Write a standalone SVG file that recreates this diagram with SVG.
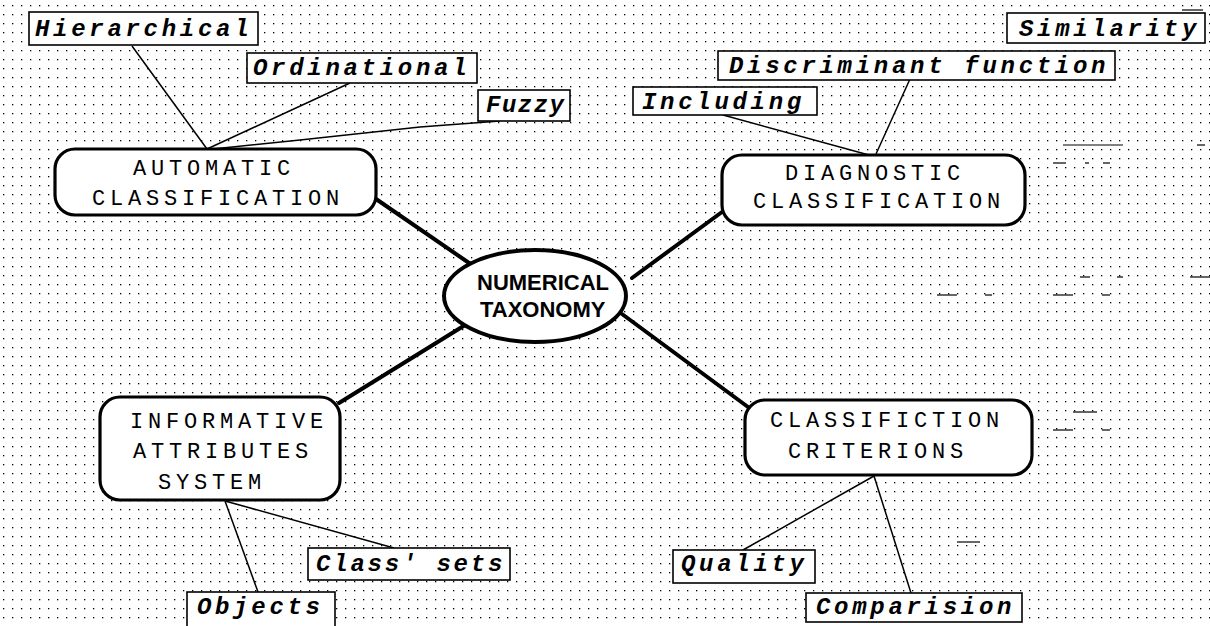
<svg xmlns="http://www.w3.org/2000/svg" width="1210" height="626" viewBox="0 0 1210 626">
<defs>
<pattern id="dots" width="9" height="9" patternUnits="userSpaceOnUse">
<rect x="3" y="5" width="1.3" height="1.3" fill="#000"/>
</pattern>
<style>
.node{fill:#fff;stroke:#000;stroke-width:3.2}
.ntext{font-family:"Liberation Mono",monospace;font-size:22px;letter-spacing:4.8px;fill:#000}
.lbox{fill:#fff;stroke:#000;stroke-width:1.6}
.ltext{font-family:"Liberation Mono",monospace;font-size:24px;font-weight:bold;font-style:italic;letter-spacing:3.7px;fill:#000}
.thick{stroke:#000;stroke-width:4;fill:none;stroke-linecap:round}
.thin{stroke:#000;stroke-width:1.5;fill:none}
.art{stroke:#000;stroke-width:1.2}
</style>
</defs>
<rect width="1210" height="626" fill="#fff"/>
<rect width="1210" height="626" fill="url(#dots)"/>

<g id="artifacts">
<line class="art" x1="1063" y1="145" x2="1123" y2="145"/>
<line class="art" x1="1197" y1="145" x2="1205" y2="145"/>
<line class="art" x1="1053" y1="163" x2="1066" y2="163"/>
<line class="art" x1="1085" y1="163" x2="1089" y2="163"/>
<line class="art" x1="1103" y1="163" x2="1110" y2="163"/>
<line class="art" x1="1182" y1="10" x2="1203" y2="10"/>
<line class="art" x1="1190" y1="277" x2="1210" y2="277"/>
<line class="art" x1="1080" y1="277" x2="1090" y2="277"/>
<line class="art" x1="1117" y1="277" x2="1123" y2="277"/>
<line class="art" x1="937" y1="295" x2="957" y2="295"/>
<line class="art" x1="985" y1="295" x2="992" y2="295"/>
<line class="art" x1="1053" y1="295" x2="1073" y2="295"/>
<line class="art" x1="1102" y1="295" x2="1110" y2="295"/>
<line class="art" x1="1073" y1="412" x2="1097" y2="412"/>
<line class="art" x1="1053" y1="430" x2="1073" y2="430"/>
<line class="art" x1="1102" y1="430" x2="1110" y2="430"/>
<line class="art" x1="957" y1="542" x2="980" y2="542"/>
<line class="art" x1="985" y1="162" x2="995" y2="162"/>
</g>

<g id="connectors">
<line class="thick" x1="376" y1="199" x2="472" y2="265"/>
<line class="thick" x1="722" y1="212" x2="632" y2="278"/>
<line class="thick" x1="339" y1="403" x2="470" y2="322"/>
<line class="thick" x1="748" y1="407" x2="622" y2="314"/>
<line class="thin" x1="132" y1="46" x2="207" y2="149"/>
<line class="thin" x1="350" y1="83" x2="207" y2="149"/>
<polyline class="thin" points="213,149 300,140 420,127 500,121"/>
<line class="thin" x1="723" y1="115" x2="869" y2="155"/>
<line class="thin" x1="910" y1="79" x2="876" y2="154"/>
<line class="thin" x1="225" y1="501" x2="394" y2="548"/>
<line class="thin" x1="225" y1="501" x2="258" y2="592"/>
<line class="thin" x1="874" y1="476" x2="743" y2="550"/>
<line class="thin" x1="874" y1="476" x2="911" y2="593"/>
</g>

<g id="n-automatic">
<rect class="node" x="55" y="149" width="321" height="66" rx="20"/>
<text class="ntext" x="133" y="175">AUTOMATIC</text>
<text class="ntext" x="92" y="205">CLASSIFICATION</text>
</g>
<g id="n-diagnostic">
<rect class="node" x="722" y="155" width="303" height="70" rx="20"/>
<text class="ntext" x="785" y="180">DIAGNOSTIC</text>
<text class="ntext" x="753" y="208">CLASSIFICATION</text>
</g>
<g id="n-informative">
<rect class="node" x="100" y="397" width="240" height="103" rx="20"/>
<text class="ntext" x="130" y="428">INFORMATIVE</text>
<text class="ntext" x="133" y="458">ATTRIBUTES</text>
<text class="ntext" x="158" y="489">SYSTEM</text>
</g>
<g id="n-criterions">
<rect class="node" x="745" y="400" width="287" height="75" rx="20"/>
<text class="ntext" x="770" y="427">CLASSIFICTION</text>
<text class="ntext" x="788" y="458">CRITERIONS</text>
</g>
<g id="n-numerical">
<ellipse cx="535" cy="296" rx="91" ry="46" fill="#fff" stroke="#000" stroke-width="4"/>
<text x="477" y="290" font-family="'Liberation Sans',Arial,sans-serif" font-size="22" font-weight="bold">NUMERICAL</text>
<text x="480" y="317" font-family="'Liberation Sans',Arial,sans-serif" font-size="22" font-weight="bold">TAXONOMY</text>
</g>

<g id="l-hierarchical"><rect class="lbox" x="29" y="12" width="229" height="33"/><text class="ltext" x="35" y="36">Hierarchical</text></g>
<g id="l-ordinational"><rect class="lbox" x="247" y="53" width="230" height="30"/><text class="ltext" x="253" y="75">Ordinational</text></g>
<g id="l-fuzzy"><rect class="lbox" x="478" y="90" width="92" height="31"/><text class="ltext" x="486" y="112" style="letter-spacing:1.5px">Fuzzy</text></g>
<g id="l-including"><rect class="lbox" x="633" y="87" width="184" height="28"/><text class="ltext" x="642" y="109">Including</text></g>
<g id="l-discriminant"><rect class="lbox" x="718" y="51" width="397" height="29"/><text class="ltext" x="729" y="73">Discriminant function</text></g>
<g id="l-similarity"><rect class="lbox" x="1007" y="13" width="198" height="30"/><text class="ltext" x="1019" y="36">Similarity</text></g>
<g id="l-classsets"><rect class="lbox" x="308" y="548" width="202" height="32"/><text class="ltext" x="316" y="571" style="letter-spacing:2.8px">Class' sets</text></g>
<g id="l-objects"><rect class="lbox" x="187" y="592" width="148" height="36"/><text class="ltext" x="197" y="614">Objects</text></g>
<g id="l-quality"><rect class="lbox" x="673" y="550" width="142" height="33"/><text class="ltext" x="681" y="571">Quality</text></g>
<g id="l-comparision"><rect class="lbox" x="806" y="593" width="216" height="29"/><text class="ltext" x="816" y="614">Comparision</text></g>
</svg>
